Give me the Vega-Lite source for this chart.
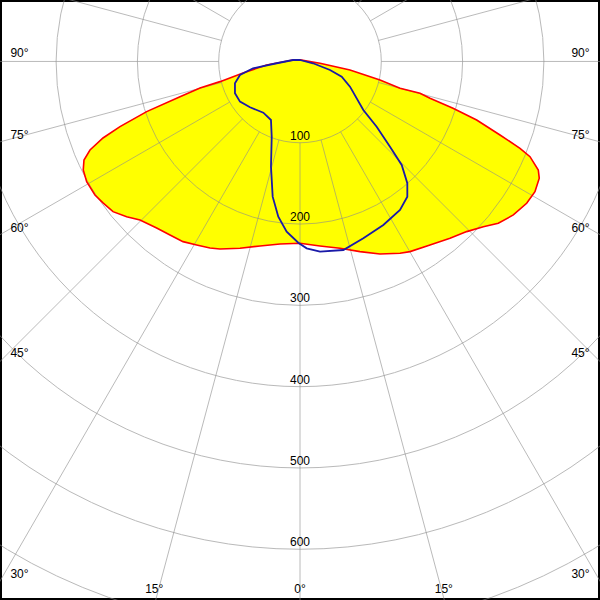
{
  "$schema": "https://vega.github.io/schema/vega-lite/v6.json",
  "width": 600,
  "height": 600,
  "padding": 0,
  "autosize": {"type": "none"},
  "background": "white",
  "config": {"view": {"stroke": "#000000", "strokeWidth": 4}},
  "datasets": {
    "red": [
      {"i": 0, "x": 0, "y": 2},
      {"i": 1, "x": 12.3, "y": -0.2},
      {"i": 2, "x": 24.6, "y": -2.2},
      {"i": 3, "x": 61.5, "y": -10.5},
      {"i": 4, "x": 98.4, "y": -22.8},
      {"i": 5, "x": 123, "y": -33},
      {"i": 6, "x": 147.6, "y": -39.1},
      {"i": 7, "x": 159.9, "y": -45.3},
      {"i": 8, "x": 188.2, "y": -57.6},
      {"i": 9, "x": 217.3, "y": -72},
      {"i": 10, "x": 246, "y": -90.4},
      {"i": 11, "x": 270.6, "y": -106.8},
      {"i": 12, "x": 282.9, "y": -117.1},
      {"i": 13, "x": 293.1, "y": -133.5},
      {"i": 14, "x": 294.3, "y": -143.7},
      {"i": 15, "x": 289, "y": -160.1},
      {"i": 16, "x": 278.8, "y": -174.4},
      {"i": 17, "x": 262.4, "y": -188.8},
      {"i": 18, "x": 243.9, "y": -199},
      {"i": 19, "x": 225.5, "y": -203.2},
      {"i": 20, "x": 205, "y": -209.3},
      {"i": 21, "x": 184.5, "y": -217.5},
      {"i": 22, "x": 159.9, "y": -225.7},
      {"i": 23, "x": 135.3, "y": -233.9},
      {"i": 24, "x": 123, "y": -235.9},
      {"i": 25, "x": 98.4, "y": -236.8},
      {"i": 26, "x": 73.8, "y": -233.9},
      {"i": 27, "x": 49.2, "y": -229.8},
      {"i": 28, "x": 24.6, "y": -226.9},
      {"i": 29, "x": 0, "y": -223.6},
      {"i": 30, "x": -24.6, "y": -224.5},
      {"i": 31, "x": -49.2, "y": -226.9},
      {"i": 32, "x": -73.8, "y": -229.8},
      {"i": 33, "x": -98.4, "y": -230.6},
      {"i": 34, "x": -110.7, "y": -229.4},
      {"i": 35, "x": -127.1, "y": -225.7},
      {"i": 36, "x": -143.9, "y": -221.6},
      {"i": 37, "x": -159.9, "y": -213.4},
      {"i": 38, "x": -176.3, "y": -204.8},
      {"i": 39, "x": -196.8, "y": -195},
      {"i": 40, "x": -213.2, "y": -190.9},
      {"i": 41, "x": -230, "y": -184.7},
      {"i": 42, "x": -242.3, "y": -174},
      {"i": 43, "x": -252.2, "y": -164.2},
      {"i": 44, "x": -262.4, "y": -147.8},
      {"i": 45, "x": -266.6, "y": -133.5},
      {"i": 46, "x": -265.7, "y": -121.2},
      {"i": 47, "x": -258.3, "y": -108.9},
      {"i": 48, "x": -242.3, "y": -94.1},
      {"i": 49, "x": -221.4, "y": -80.2},
      {"i": 50, "x": -188.6, "y": -61.7},
      {"i": 51, "x": -147.6, "y": -43.3},
      {"i": 52, "x": -123, "y": -32.6},
      {"i": 53, "x": -98.4, "y": -24.8},
      {"i": 54, "x": -70.1, "y": -14.1},
      {"i": 55, "x": -41, "y": -4.3},
      {"i": 56, "x": -8.6, "y": 1.8}
    ],
    "blue": [
      {"i": 0, "x": 0, "y": 1.8},
      {"i": 1, "x": 16, "y": -2.2},
      {"i": 2, "x": 36.9, "y": -10.5},
      {"i": 3, "x": 51.3, "y": -18.7},
      {"i": 4, "x": 61.5, "y": -31},
      {"i": 5, "x": 77.9, "y": -59.7},
      {"i": 6, "x": 94.3, "y": -80.2},
      {"i": 7, "x": 110.7, "y": -104.8},
      {"i": 8, "x": 125.1, "y": -127.3},
      {"i": 9, "x": 132, "y": -149.8},
      {"i": 10, "x": 132, "y": -166.3},
      {"i": 11, "x": 123, "y": -182.7},
      {"i": 12, "x": 102.5, "y": -201.1},
      {"i": 13, "x": 77.9, "y": -217.5},
      {"i": 14, "x": 53.3, "y": -231.9},
      {"i": 15, "x": 24.6, "y": -234},
      {"i": 16, "x": 8.2, "y": -229.8},
      {"i": 17, "x": -2.1, "y": -222.9},
      {"i": 18, "x": -16.4, "y": -209.3},
      {"i": 19, "x": -26.7, "y": -190.9},
      {"i": 20, "x": -33.6, "y": -166.3},
      {"i": 21, "x": -35.7, "y": -129.4},
      {"i": 22, "x": -34.8, "y": -92.5},
      {"i": 23, "x": -35.7, "y": -72},
      {"i": 24, "x": -45.1, "y": -63},
      {"i": 25, "x": -61.5, "y": -56.3},
      {"i": 26, "x": -73.8, "y": -49.4},
      {"i": 27, "x": -80, "y": -39.1},
      {"i": 28, "x": -80, "y": -26.8},
      {"i": 29, "x": -73.8, "y": -16.6},
      {"i": 30, "x": -57.8, "y": -8.4},
      {"i": 31, "x": -28.7, "y": -2.2},
      {"i": 32, "x": -8.6, "y": 1.8}
    ],
    "rings": [
      {"r": 100}, {"r": 200}, {"r": 300}, {"r": 400}, {"r": 500}, {"r": 600}, {"r": 700}
    ],
    "spokes": [
      {"a": 0, "x": 0, "y": -100, "x2": 0, "y2": -900},
      {"a": 15, "x": 25.9, "y": -96.6, "x2": 232.9, "y2": -869.3},
      {"a": 30, "x": 50, "y": -86.6, "x2": 450, "y2": -779.4},
      {"a": 45, "x": 70.7, "y": -70.7, "x2": 636.4, "y2": -636.4},
      {"a": 60, "x": 86.6, "y": -50, "x2": 779.4, "y2": -450},
      {"a": 75, "x": 96.6, "y": -25.9, "x2": 869.3, "y2": -232.9},
      {"a": 90, "x": 100, "y": 0, "x2": 900, "y2": 0},
      {"a": 105, "x": 96.6, "y": 25.9, "x2": 869.3, "y2": 232.9},
      {"a": 120, "x": 86.6, "y": 50, "x2": 779.4, "y2": 450},
      {"a": 135, "x": 70.7, "y": 70.7, "x2": 636.4, "y2": 636.4},
      {"a": 150, "x": 50, "y": 86.6, "x2": 450, "y2": 779.4},
      {"a": 165, "x": 25.9, "y": 96.6, "x2": 232.9, "y2": 869.3},
      {"a": 180, "x": 0, "y": 100, "x2": 0, "y2": 900},
      {"a": -15, "x": -25.9, "y": -96.6, "x2": -232.9, "y2": -869.3},
      {"a": -30, "x": -50, "y": -86.6, "x2": -450, "y2": -779.4},
      {"a": -45, "x": -70.7, "y": -70.7, "x2": -636.4, "y2": -636.4},
      {"a": -60, "x": -86.6, "y": -50, "x2": -779.4, "y2": -450},
      {"a": -75, "x": -96.6, "y": -25.9, "x2": -869.3, "y2": -232.9},
      {"a": -90, "x": -100, "y": 0, "x2": -900, "y2": 0},
      {"a": -105, "x": -96.6, "y": 25.9, "x2": -869.3, "y2": 232.9},
      {"a": -120, "x": -86.6, "y": 50, "x2": -779.4, "y2": 450},
      {"a": -135, "x": -70.7, "y": 70.7, "x2": -636.4, "y2": 636.4},
      {"a": -150, "x": -50, "y": 86.6, "x2": -450, "y2": 779.4},
      {"a": -165, "x": -25.9, "y": 96.6, "x2": -232.9, "y2": 869.3}
    ],
    "alabels": [
      {"t": "90°", "x": -345, "y": 9.8},
      {"t": "90°", "x": 345, "y": 9.8},
      {"t": "75°", "x": -345, "y": -90},
      {"t": "75°", "x": 345, "y": -90},
      {"t": "60°", "x": -345, "y": -204.8},
      {"t": "60°", "x": 345, "y": -204.8},
      {"t": "45°", "x": -345, "y": -358.9},
      {"t": "45°", "x": 345, "y": -358.9},
      {"t": "30°", "x": -345, "y": -630.4},
      {"t": "30°", "x": 345, "y": -630.4},
      {"t": "15°", "x": -179.3, "y": -648.5},
      {"t": "15°", "x": 176.9, "y": -648.5},
      {"t": "0°", "x": 0, "y": -648.5}
    ],
    "rlabels": [
      {"t": "100", "y": -100},
      {"t": "200", "y": -200},
      {"t": "300", "y": -300},
      {"t": "400", "y": -400},
      {"t": "500", "y": -500},
      {"t": "600", "y": -600}
    ]
  },
  "layer": [
    {
      "data": {"name": "red"},
      "mark": {"type": "line", "interpolate": "linear-closed", "fill": "#ffff00", "strokeWidth": 0, "clip": true},
      "encoding": {
        "x": {"field": "x", "type": "quantitative", "scale": {"domain": [-369, 369], "nice": false, "zero": false}, "axis": null},
        "y": {"field": "y", "type": "quantitative", "scale": {"domain": [-662.4, 75.6], "nice": false, "zero": false}, "axis": null},
        "order": {"field": "i", "type": "quantitative"}
      }
    },
    {
      "data": {"name": "rings"},
      "mark": {"type": "point", "shape": "circle", "filled": false, "color": "#8c8c8c", "opacity": 0.6, "strokeWidth": 1, "clip": true},
      "encoding": {
        "x": {"datum": 0, "type": "quantitative"},
        "y": {"datum": 0, "type": "quantitative"},
        "size": {"field": "r", "type": "quantitative", "scale": {"type": "pow", "exponent": 2, "domain": [0, 700], "range": [0, 1295500]}, "legend": null}
      }
    },
    {
      "data": {"name": "spokes"},
      "mark": {"type": "rule", "color": "#8c8c8c", "opacity": 0.6, "strokeWidth": 1, "clip": true},
      "encoding": {
        "x": {"field": "x", "type": "quantitative"},
        "y": {"field": "y", "type": "quantitative"},
        "x2": {"field": "x2"},
        "y2": {"field": "y2"}
      }
    },
    {
      "data": {"name": "red"},
      "mark": {"type": "line", "interpolate": "linear-closed", "color": "#ff0000", "strokeWidth": 1.6, "clip": true},
      "encoding": {
        "x": {"field": "x", "type": "quantitative"},
        "y": {"field": "y", "type": "quantitative"},
        "order": {"field": "i", "type": "quantitative"}
      }
    },
    {
      "data": {"name": "blue"},
      "mark": {"type": "line", "interpolate": "linear-closed", "color": "#1a1aa8", "strokeWidth": 1.8, "clip": true},
      "encoding": {
        "x": {"field": "x", "type": "quantitative"},
        "y": {"field": "y", "type": "quantitative"},
        "order": {"field": "i", "type": "quantitative"}
      }
    },
    {
      "data": {"name": "alabels"},
      "mark": {"type": "text", "font": "Liberation Sans", "fontSize": 12, "fill": "#000000", "align": "center", "baseline": "middle"},
      "encoding": {
        "x": {"field": "x", "type": "quantitative"},
        "y": {"field": "y", "type": "quantitative"},
        "text": {"field": "t"}
      }
    },
    {
      "data": {"name": "rlabels"},
      "mark": {"type": "text", "font": "Liberation Sans", "fontSize": 12, "fill": "#000000", "align": "center", "baseline": "middle", "dy": -7},
      "encoding": {
        "x": {"datum": 0, "type": "quantitative"},
        "y": {"field": "y", "type": "quantitative"},
        "text": {"field": "t"}
      }
    }
  ]
}
